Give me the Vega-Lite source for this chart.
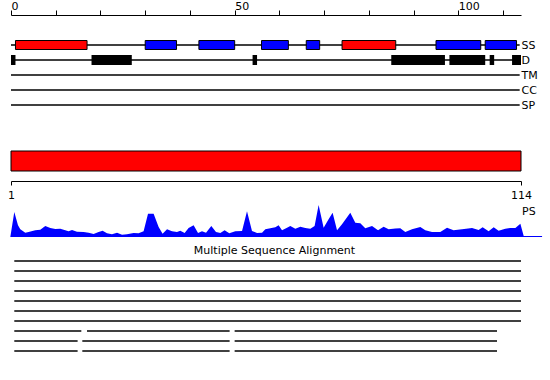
{
  "$schema": "https://vega.github.io/schema/vega-lite/v6.json",
  "background": "white",
  "padding": {"left": 7, "top": 0, "right": 0, "bottom": 0},
  "config": {
    "view": {"stroke": null},
    "font": "DejaVu Sans",
    "axis": {"labelFont": "DejaVu Sans", "labelFontSize": 11, "labelColor": "black", "domainColor": "black", "tickColor": "black", "grid": false, "title": null, "domainWidth": 1, "tickWidth": 1}
  },
  "datasets": {
    "tracks": [
      {"track": "SS", "start": 0, "end": 113.7},
      {"track": "D", "start": 0, "end": 113.7},
      {"track": "TM", "start": 0, "end": 113.7},
      {"track": "CC", "start": 0, "end": 113.7},
      {"track": "SP", "start": 0, "end": 113.7}
    ],
    "ss": [
      {"track": "SS", "type": "helix", "start": 1, "end": 17},
      {"track": "SS", "type": "strand", "start": 30, "end": 37},
      {"track": "SS", "type": "strand", "start": 42, "end": 50},
      {"track": "SS", "type": "strand", "start": 56, "end": 62},
      {"track": "SS", "type": "strand", "start": 66, "end": 69},
      {"track": "SS", "type": "helix", "start": 74, "end": 86},
      {"track": "SS", "type": "strand", "start": 95, "end": 105},
      {"track": "SS", "type": "strand", "start": 106, "end": 113}
    ],
    "dis": [
      {"track": "D", "start": 0, "end": 1},
      {"track": "D", "start": 18, "end": 27},
      {"track": "D", "start": 54, "end": 55},
      {"track": "D", "start": 85, "end": 97},
      {"track": "D", "start": 98, "end": 106},
      {"track": "D", "start": 107, "end": 108},
      {"track": "D", "start": 112, "end": 114}
    ],
    "bar": [{"start": 1, "end": 114}],
    "ps": [
      {"pos": 0.85, "ps": 0}, {"pos": 1.73, "ps": 25}, {"pos": 2.55, "ps": 11.7}, {"pos": 3.06, "ps": 7.7},
      {"pos": 4.17, "ps": 4.3}, {"pos": 4.9, "ps": 5}, {"pos": 6.38, "ps": 6.7}, {"pos": 7.49, "ps": 7.3},
      {"pos": 8.6, "ps": 11}, {"pos": 9.71, "ps": 9}, {"pos": 10.82, "ps": 8}, {"pos": 11.92, "ps": 8.3},
      {"pos": 13.03, "ps": 6.7}, {"pos": 13.76, "ps": 5.7}, {"pos": 14.52, "ps": 7}, {"pos": 15.62, "ps": 5.3},
      {"pos": 17.09, "ps": 5}, {"pos": 18.2, "ps": 4.3}, {"pos": 19.3, "ps": 3}, {"pos": 20.41, "ps": 5},
      {"pos": 21.3, "ps": 6.3}, {"pos": 22.27, "ps": 3.7}, {"pos": 23.38, "ps": 2.7}, {"pos": 24.49, "ps": 4.3},
      {"pos": 25.6, "ps": 2.3}, {"pos": 26.7, "ps": 2.7}, {"pos": 28.17, "ps": 4}, {"pos": 29.27, "ps": 3.7},
      {"pos": 30.38, "ps": 5.7}, {"pos": 31.36, "ps": 23.3}, {"pos": 32.6, "ps": 23.3}, {"pos": 33.71, "ps": 10},
      {"pos": 34.59, "ps": 3.3}, {"pos": 35.57, "ps": 7.7}, {"pos": 36.68, "ps": 5.7}, {"pos": 37.78, "ps": 5},
      {"pos": 38.51, "ps": 6.3}, {"pos": 39.47, "ps": 4}, {"pos": 40.35, "ps": 9}, {"pos": 41.46, "ps": 11.7},
      {"pos": 42.44, "ps": 4}, {"pos": 43.32, "ps": 5.7}, {"pos": 44.21, "ps": 4.3}, {"pos": 45.38, "ps": 11},
      {"pos": 46.42, "ps": 5}, {"pos": 47.38, "ps": 4}, {"pos": 48.33, "ps": 6.7}, {"pos": 49.37, "ps": 3.7},
      {"pos": 50.7, "ps": 5.7}, {"pos": 52.19, "ps": 6}, {"pos": 53.29, "ps": 25.7}, {"pos": 54.4, "ps": 6},
      {"pos": 55.51, "ps": 4}, {"pos": 56.62, "ps": 4.3}, {"pos": 57.35, "ps": 7.7}, {"pos": 58.46, "ps": 8.7},
      {"pos": 59.56, "ps": 9.7}, {"pos": 60.3, "ps": 11.7}, {"pos": 61.05, "ps": 6.7}, {"pos": 62.16, "ps": 9.3},
      {"pos": 62.89, "ps": 11}, {"pos": 64, "ps": 8.3}, {"pos": 65.1, "ps": 10.3}, {"pos": 66.21, "ps": 9},
      {"pos": 67.32, "ps": 8.3}, {"pos": 68.27, "ps": 11}, {"pos": 69.16, "ps": 32}, {"pos": 70.27, "ps": 9.3},
      {"pos": 71.37, "ps": 17.7}, {"pos": 72.26, "ps": 24.3}, {"pos": 73.24, "ps": 6.7}, {"pos": 74.34, "ps": 12.7},
      {"pos": 76.18, "ps": 24.3}, {"pos": 77.29, "ps": 14.3}, {"pos": 78.4, "ps": 13.7}, {"pos": 79.5, "ps": 8.7},
      {"pos": 80.99, "ps": 11}, {"pos": 82.32, "ps": 6.7}, {"pos": 83.56, "ps": 10.3}, {"pos": 84.67, "ps": 7.7},
      {"pos": 86.16, "ps": 8.5}, {"pos": 87.26, "ps": 8.7}, {"pos": 88.37, "ps": 5}, {"pos": 89.85, "ps": 7.7},
      {"pos": 91.69, "ps": 10}, {"pos": 92.8, "ps": 6.7}, {"pos": 94.28, "ps": 5}, {"pos": 96.12, "ps": 5},
      {"pos": 97.61, "ps": 9.3}, {"pos": 99.07, "ps": 6.7}, {"pos": 100.93, "ps": 7.7}, {"pos": 103.15, "ps": 9},
      {"pos": 104.61, "ps": 7}, {"pos": 105.5, "ps": 9.7}, {"pos": 106.83, "ps": 5.7}, {"pos": 107.94, "ps": 9.7},
      {"pos": 109.04, "ps": 6.3}, {"pos": 110.53, "ps": 8.3}, {"pos": 111.64, "ps": 9}, {"pos": 112.75, "ps": 9},
      {"pos": 113.86, "ps": 13.3}, {"pos": 114.6, "ps": 1}, {"pos": 118.67, "ps": 1}
    ],
    "msa": [
      {"seq": 1, "start": 1.73, "end": 114},
      {"seq": 2, "start": 1.73, "end": 114},
      {"seq": 3, "start": 1.73, "end": 114},
      {"seq": 4, "start": 1.73, "end": 114},
      {"seq": 5, "start": 1.73, "end": 114},
      {"seq": 6, "start": 1.73, "end": 114},
      {"seq": 7, "start": 1.73, "end": 114},
      {"seq": 8, "start": 1.73, "end": 16.58},
      {"seq": 8, "start": 17.84, "end": 49.44},
      {"seq": 8, "start": 50.55, "end": 108.69},
      {"seq": 9, "start": 1.73, "end": 15.76},
      {"seq": 9, "start": 16.8, "end": 49.44},
      {"seq": 9, "start": 50.55, "end": 108.69},
      {"seq": 10, "start": 1.73, "end": 15.76},
      {"seq": 10, "start": 16.8, "end": 49.44},
      {"seq": 10, "start": 50.55, "end": 108.69}
    ]
  },
  "spacing": 15,
  "vconcat": [
    {
      "width": 510,
      "height": 120,
      "layer": [
        {
          "data": {"name": "tracks"},
          "mark": {"type": "rule", "color": "black", "strokeWidth": 1.5},
          "encoding": {
            "x": {"field": "start", "type": "quantitative",
                  "scale": {"domain": [0, 114], "nice": false, "zero": false},
                  "axis": {"orient": "top", "values": [0, 10, 20, 30, 40, 50, 60, 70, 80, 90, 100, 110],
                           "labelExpr": "datum.value % 50 === 0 ? datum.label : ''",
                           "labelAlign": "left", "labelFlush": false, "tickSize": 5, "labelPadding": -1}},
            "x2": {"field": "end"},
            "y": {"field": "track", "type": "nominal",
                  "scale": {"type": "point", "domain": ["SS", "D", "TM", "CC", "SP"], "range": [30, 90], "padding": 0},
                  "axis": {"orient": "right", "domain": false, "ticks": false, "labelPadding": 0}}
          }
        },
        {
          "data": {"name": "ss"},
          "mark": {"type": "bar", "size": 9, "stroke": "black", "strokeWidth": 1},
          "encoding": {
            "x": {"field": "start", "type": "quantitative"},
            "x2": {"field": "end"},
            "y": {"field": "track", "type": "nominal"},
            "color": {"field": "type", "type": "nominal",
                      "scale": {"domain": ["helix", "strand"], "range": ["#ff0000", "#0000ff"]}, "legend": null}
          }
        },
        {
          "data": {"name": "dis"},
          "mark": {"type": "bar", "size": 10, "color": "black"},
          "encoding": {
            "x": {"field": "start", "type": "quantitative"},
            "x2": {"field": "end"},
            "y": {"field": "track", "type": "nominal"}
          }
        }
      ]
    },
    {
      "spacing": 4,
      "vconcat": [
        {
          "width": 510,
          "height": 20,
          "data": {"name": "bar"},
          "mark": {"type": "rect", "fill": "#ff0000", "stroke": "black", "strokeWidth": 1},
          "encoding": {
            "x": {"field": "start", "type": "quantitative",
                  "scale": {"domain": [1, 114], "nice": false, "zero": false},
                  "axis": {"orient": "bottom", "values": [1, 114], "offset": 10, "tickSize": 4, "labelPadding": 4, "labelFlush": false}},
            "x2": {"field": "end"}
          }
        },
        {
          "spacing": 8,
          "vconcat": [
            {
              "width": 510,
              "height": 33,
              "layer": [
                {
                  "data": {"name": "ps"},
                  "mark": {"type": "area", "color": "#0000ff", "clip": false},
                  "encoding": {
                    "x": {"field": "pos", "type": "quantitative", "scale": {"domain": [1, 114], "nice": false, "zero": false}, "axis": null},
                    "y": {"field": "ps", "type": "quantitative", "scale": {"domain": [0, 33], "nice": false}, "axis": null}
                  }
                },
                {
                  "data": {"values": [{"label": "PS"}]},
                  "mark": {"type": "text", "align": "left", "dx": 1, "fontSize": 11, "font": "DejaVu Sans", "color": "black"},
                  "encoding": {
                    "x": {"datum": 114, "type": "quantitative"},
                    "y": {"datum": 25.5, "type": "quantitative"},
                    "text": {"field": "label"}
                  }
                }
              ]
            },
            {
              "width": 510,
              "height": 90,
              "title": {"text": "Multiple Sequence Alignment", "fontSize": 11, "font": "DejaVu Sans", "fontWeight": "normal", "anchor": "middle", "dx": 8.5, "offset": 4, "color": "black"},
              "data": {"name": "msa"},
              "mark": {"type": "rule", "color": "black", "strokeWidth": 1.5},
              "encoding": {
                "x": {"field": "start", "type": "quantitative", "scale": {"domain": [1, 114], "nice": false, "zero": false}, "axis": null},
                "x2": {"field": "end"},
                "y": {"field": "seq", "type": "ordinal", "scale": {"type": "point", "padding": 0}, "axis": null}
              }
            }
          ]
        }
      ]
    }
  ]
}
